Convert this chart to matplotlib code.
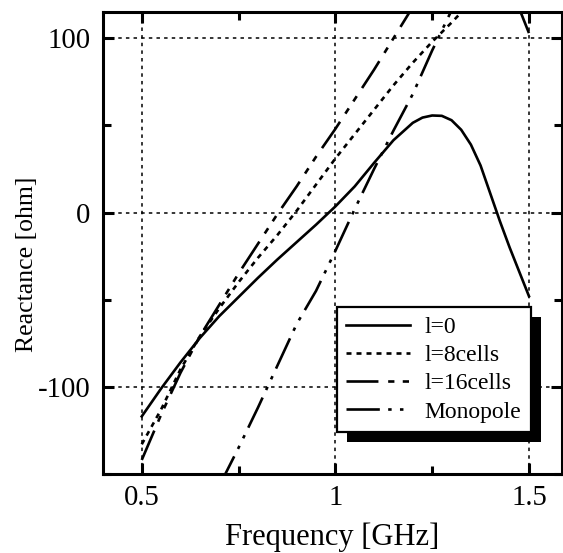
import numpy as np
import matplotlib
matplotlib.use("Agg")
import matplotlib.pyplot as plt
from matplotlib.patches import Rectangle
from matplotlib.transforms import IdentityTransform
from matplotlib.ticker import MultipleLocator

plt.rcParams['font.family'] = ['Liberation Serif', 'DejaVu Serif']
plt.rcParams['axes.unicode_minus'] = False
plt.rcParams['lines.scale_dashes'] = False

# l=0
f_l0 = [0.50, 0.55, 0.60, 0.65, 0.70, 0.75, 0.80, 0.85, 0.90, 0.95, 1.00, 1.05,
        1.10, 1.15, 1.20, 1.225, 1.25, 1.275, 1.30, 1.325, 1.35, 1.375, 1.40,
        1.425, 1.45, 1.475, 1.50]
x_l0 = [-117, -101, -86, -72, -59.5, -48.5, -37.5, -27, -17, -7, 3.5, 15,
        28.5, 41.5, 51.5, 54.5, 55.7, 55.5, 53, 47.5, 39, 27, 11,
        -5, -20, -34, -48]

# l=8cells
f_l8 = [0.50, 0.55, 0.60, 0.65, 0.70, 0.75, 0.80, 0.85, 0.90, 0.95, 1.00,
        1.05, 1.10, 1.15, 1.20, 1.25, 1.30, 1.33]
x_l8 = [-133, -113, -90, -71, -55, -40, -26, -13, 1, 16, 31,
        45, 59, 73, 86, 98, 109, 116]

# l=16cells (goes off the top, comes back in near 1.5)
f_l16 = [0.50, 0.55, 0.60, 0.65, 0.70, 0.75, 0.80, 0.85, 0.90, 0.95, 1.00,
         1.05, 1.10, 1.15, 1.20, 1.30, 1.475, 1.50]
x_l16 = [-142, -116, -92, -71, -53, -35, -18, -1, 15, 32, 48,
         65, 82, 100, 118, np.nan, 117, 103]

# Monopole
f_mono = [0.70, 0.75, 0.80, 0.85, 0.90, 0.95, 1.00, 1.05, 1.10, 1.15, 1.20, 1.25, 1.30]
x_mono = [-157, -135, -112, -88, -64, -45, -22, 2, 25, 47, 68, 93, 116]

fig = plt.figure(figsize=(5.63, 5.53), dpi=100)
ax = fig.add_axes([0.183, 0.143, 0.815, 0.835])

lw = 1.9
ax.plot(f_l0, x_l0, color='k', lw=lw, label='l=0')
ax.plot(f_l8, x_l8, color='k', lw=lw, dashes=(3.6, 3.6), label='l=8cells')
ax.plot(f_l16, x_l16, color='k', lw=lw, dashes=(23, 7, 4.5, 6, 4.5, 7), label='l=16cells')
ax.plot(f_mono, x_mono, color='k', lw=lw, dashes=(24, 6, 2.5, 6, 2.5, 6), label='Monopole')

ax.set_xlim(0.4, 1.585)
ax.set_ylim(-150, 115)
ax.set_xticks([0.5, 1, 1.5])
ax.set_xticklabels(['0.5', '1', '1.5'])
ax.set_yticks([-100, 0, 100])
ax.set_yticklabels(['-100', '0', '100'])
ax.xaxis.set_minor_locator(MultipleLocator(0.25))
ax.yaxis.set_minor_locator(MultipleLocator(50))

ax.grid(True, which='major', color='k', linestyle=(0, (2.5, 3)), linewidth=1.1)
ax.tick_params(which='both', direction='in', top=True, right=True, width=2.2, colors='k')
ax.tick_params(which='major', length=8, labelsize=20.7)
ax.tick_params(axis='x', which='major', pad=8)
ax.tick_params(axis='y', which='major', pad=9)
ax.tick_params(which='minor', length=6)
for s in ax.spines.values():
    s.set_linewidth(2.2)

ax.set_xlabel('Frequency [GHz]', fontsize=22, labelpad=8)
ax.set_ylabel('Reactance [ohm]', fontsize=18.5)
ax.yaxis.set_label_coords(-0.142, 0.455)

leg = ax.legend(loc='upper left', bbox_to_anchor=(0.51, 0.361), borderaxespad=0,
                fontsize=17, handlelength=2.7, labelspacing=0.28, handletextpad=0.6,
                fancybox=False, framealpha=1, edgecolor='k', borderpad=0.4)
leg.get_frame().set_linewidth(1.6)
leg.set_zorder(6)

# drop shadow behind the legend box
fig.canvas.draw()
bb = leg.get_window_extent()
shadow = Rectangle((bb.x0 + 10, bb.y0 - 10), bb.width, bb.height,
                   transform=IdentityTransform(), facecolor='k', edgecolor='none',
                   zorder=5.5, clip_on=False)
ax.add_patch(shadow)

fig.savefig('out.png', dpi=100)
